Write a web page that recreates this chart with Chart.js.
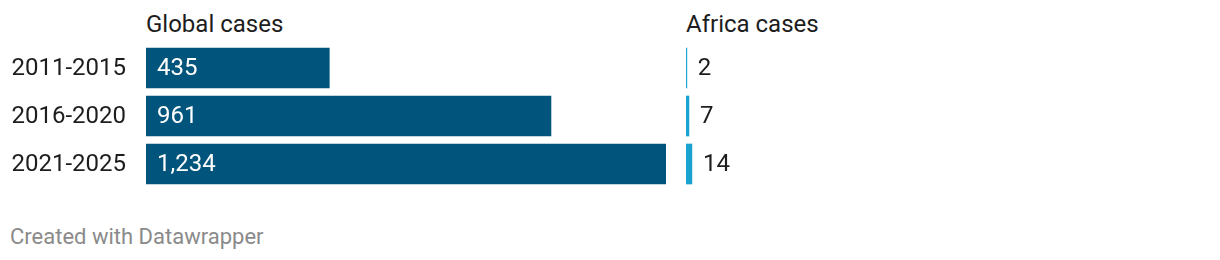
<!DOCTYPE html>
<html lang="en">
<head>
  <meta charset="UTF-8">
  <title>Global and Africa cases</title>
  <script src="https://cdn.jsdelivr.net/npm/chart.js"></script>
  <style>
    body { margin: 0; background: #fff; font-family: Roboto, sans-serif; }
    .wrap { position: relative; width: 1220px; height: 260px; }
    .head { position: absolute; top: 10px; font-size: 24px; color: #1d1d1d; }
    .foot { position: absolute; left: 10px; top: 224px; font-size: 22px; color: #8a8a8a; }
  </style>
</head>
<body>
  <div class="wrap">
    <div class="head" style="left:146px">Global cases</div>
    <div class="head" style="left:686px">Africa cases</div>
    <div style="position:absolute;left:0;top:0;width:666px;height:200px"><canvas id="globalChart"></canvas></div>
    <div style="position:absolute;left:686px;top:0;width:520px;height:200px"><canvas id="africaChart"></canvas></div>
    <div class="foot">Created with Datawrapper</div>
  </div>

  <script>
    // Data
    const periods = ['2011-2015', '2016-2020', '2021-2025'];
    const globalCases = [435, 961, 1234];
    const africaCases = [2, 7, 14];

    const scaleMax = 1234;
    const fontFamily = 'Roboto, sans-serif';

    // numbers on the bars, plus the period names on the left chart
    const barText = {
      id: 'barText',
      afterDatasetsDraw(chart, args, opts) {
        const ctx = chart.ctx;
        const meta = chart.getDatasetMeta(0);
        const yScale = chart.scales.y;
        ctx.save();
        ctx.font = '24px ' + fontFamily;
        ctx.textBaseline = 'middle';
        meta.data.forEach((bar, i) => {
          const v = chart.data.datasets[0].data[i];
          ctx.textAlign = 'left';
          ctx.fillStyle = opts.color;
          const x = opts.inside ? bar.base + 11 : bar.x + 11;
          ctx.fillText(v.toLocaleString('en-US'), x, bar.y + 1);
          if (opts.categories) {
            ctx.textAlign = 'right';
            ctx.fillStyle = '#1d1d1d';
            ctx.fillText(chart.data.labels[i], chart.chartArea.left - 20, yScale.getPixelForValue(i) + 1);
          }
        });
        ctx.restore();
      }
    };

    function makeChart(id, values, color, leftWidth, textOpts) {
      return new Chart(document.getElementById(id), {
        type: 'bar',
        data: {
          labels: periods,
          datasets: [{ data: values, backgroundColor: color, barThickness: 40 }]
        },
        options: {
          indexAxis: 'y',
          responsive: true,
          maintainAspectRatio: false,
          animation: false,
          layout: { padding: { top: 44, bottom: 12, left: leftWidth, right: 0 } },
          scales: {
            x: { display: false, min: 0, max: scaleMax },
            y: { display: false }
          },
          plugins: {
            legend: { display: false },
            tooltip: { enabled: false },
            barText: textOpts
          }
        },
        plugins: [barText]
      });
    }

    makeChart('globalChart', globalCases, '#01547b', 146, { color: '#ffffff', inside: true, categories: true });
    makeChart('africaChart', africaCases, '#1aa2d0', 0, { color: '#1d1d1d', inside: false, categories: false });
  </script>
</body>
</html>
